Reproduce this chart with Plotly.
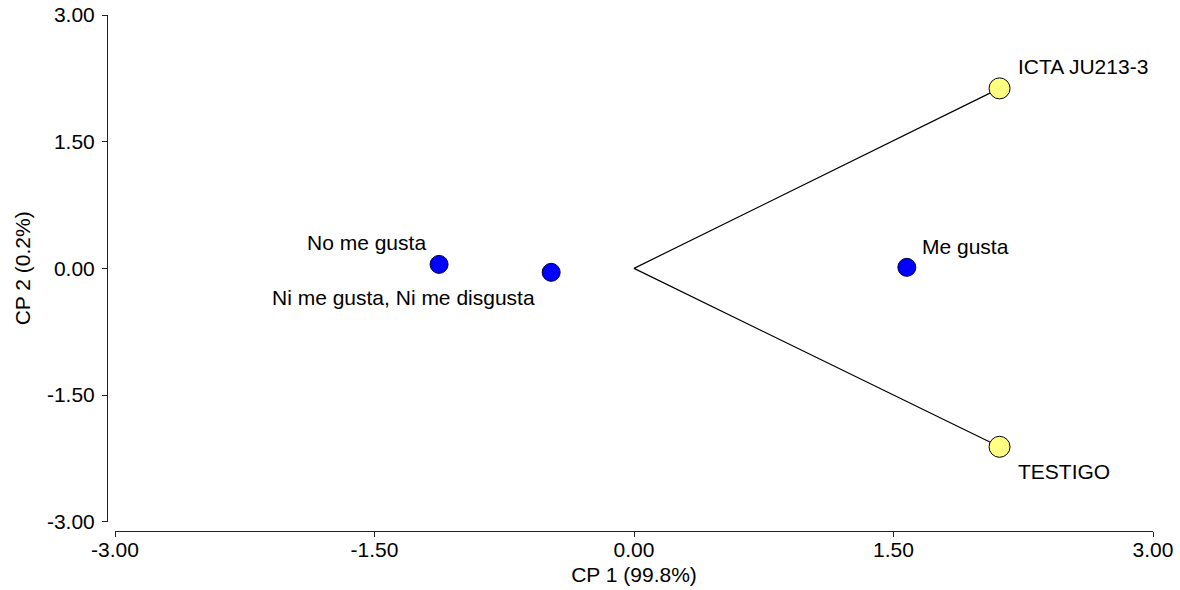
import plotly.graph_objects as go

# Data
cat_labels = ["No me gusta", "Ni me gusta, Ni me disgusta", "Me gusta"]
cat_x = [-1.127, -0.479, 1.577]
cat_y = [0.047, -0.047, 0.012]

trt_labels = ["ICTA JU213-3", "TESTIGO"]
trt_x = [2.113, 2.113]
trt_y = [2.131, -2.113]

tick_vals = [-3.0, -1.5, 0.0, 1.5, 3.0]
tick_text = ["-3.00", "-1.50", "0.00", "1.50", "3.00"]
x_title = "CP 1 (99.8%)"
y_title = "CP 2 (0.2%)"

FONT = "Arial, Liberation Sans, sans-serif"
FS = 21

fig = go.Figure()

# vectors from origin to treatments
fig.add_trace(go.Scatter(
    x=[trt_x[0], 0, trt_x[1]], y=[trt_y[0], 0, trt_y[1]],
    mode="lines", line=dict(color="black", width=1.2),
    hoverinfo="skip", showlegend=False))

fig.add_trace(go.Scatter(
    x=cat_x, y=cat_y, mode="markers", text=cat_labels,
    marker=dict(size=18, color="#0000FF", line=dict(color="#000033", width=1)),
    showlegend=False))

fig.add_trace(go.Scatter(
    x=trt_x, y=trt_y, mode="markers", text=trt_labels,
    marker=dict(size=21, color="#FFFF80", line=dict(color="black", width=1)),
    showlegend=False))

# label placement (pixel offsets)
cat_style = [
    dict(xanchor="right", yanchor="middle", xshift=-11, yshift=22),
    dict(xanchor="right", yanchor="middle", xshift=-14, yshift=-25),
    dict(xanchor="left", yanchor="middle", xshift=13, yshift=21),
]
for lab, x, y, st in zip(cat_labels, cat_x, cat_y, cat_style):
    fig.add_annotation(x=x, y=y, text=lab, showarrow=False,
                       font=dict(family=FONT, size=FS, color="black"), **st)

trt_style = [
    dict(xanchor="left", yanchor="middle", xshift=16, yshift=22),
    dict(xanchor="left", yanchor="middle", xshift=16, yshift=-25),
]
for lab, x, y, st in zip(trt_labels, trt_x, trt_y, trt_style):
    fig.add_annotation(x=x, y=y, text=lab, showarrow=False,
                       font=dict(family=FONT, size=FS, color="black"), **st)

axis_common = dict(
    range=[-3, 3], tickvals=tick_vals, ticktext=tick_text,
    showgrid=False, zeroline=False, showline=True, automargin=False,
    linecolor="#222222", linewidth=1,
    ticks="outside", ticklen=5, tickcolor="#222222", tickwidth=1,
    tickfont=dict(family=FONT, size=FS, color="black"),
    title_font=dict(family=FONT, size=FS, color="black"),
)

fig.update_layout(
    template="none",
    width=1180, height=590,
    paper_bgcolor="white", plot_bgcolor="white",
    margin=dict(l=107, r=27, t=15, b=59, pad=0),
    xaxis=dict(axis_common, domain=[0.0077, 1], anchor="free", position=0,
               ticklabelstandoff=-5,
               title=dict(text=x_title, standoff=7)),
    yaxis=dict(axis_common, domain=[0.018, 1], anchor="free", position=0,
               ticklabelstandoff=3,
               title=dict(text=y_title, standoff=9)),
    font=dict(family=FONT),
)

fig.write_html("out.html", config={"displayModeBar": False},
               post_script="document.body.style.margin='0';")
